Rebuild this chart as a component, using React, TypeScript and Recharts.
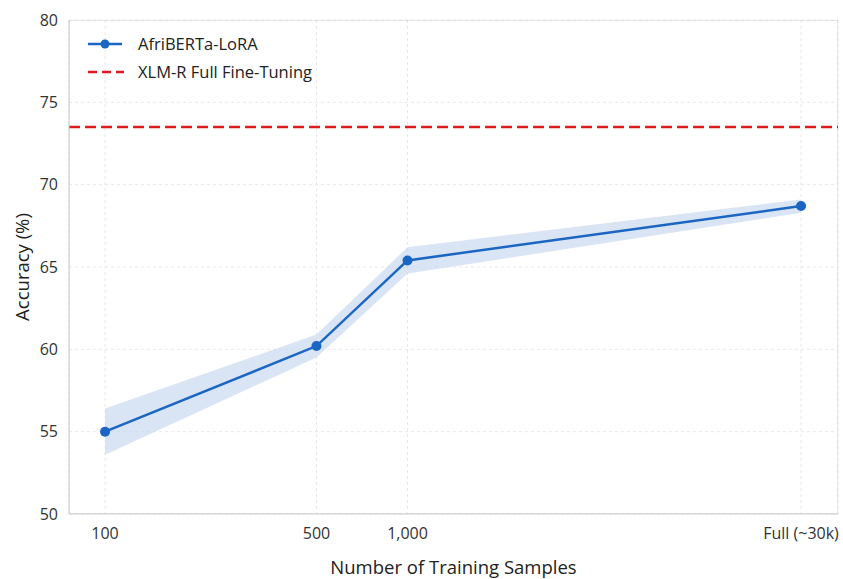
import React from "react";
import {
  ComposedChart,
  Line,
  Area,
  XAxis,
  YAxis,
  CartesianGrid,
  ReferenceLine,
  ReferenceArea,
  Legend,
} from "recharts";

// x positions on a log axis; "Full" sits where the plot puts it
const samples = [100, 500, 1000, 20000];
const sampleLabels = ["100", "500", "1,000", "Full (~30k)"];
const accuracy = [55.0, 60.2, 65.4, 68.7];
const accLow = [53.6, 59.5, 64.6, 68.3];
const accHigh = [56.4, 60.9, 66.2, 69.1];
const xlmrFullFT = 73.5;
const yTicks = [50, 55, 60, 65, 70, 75, 80];

const data = samples.map((n, i) => ({
  n,
  acc: accuracy[i],
  band: [accLow[i], accHigh[i]],
}));

const BLUE = "#1a66c2";
const RED = "#e0191b";
const FONT = "'Open Sans', 'Noto Sans', sans-serif";

function fmtX(v: number) {
  const i = samples.indexOf(v);
  return i >= 0 ? sampleLabels[i] : String(v);
}

function LegendBox() {
  return (
    <div style={{ fontFamily: FONT, fontSize: 16.5, color: "#222", lineHeight: "28px" }}>
      <div style={{ display: "flex", alignItems: "center" }}>
        <svg width={50} height={28}>
          <line x1={0} y1={14} x2={34} y2={14} stroke={BLUE} strokeWidth={2.5} />
          <circle cx={17} cy={14} r={4.5} fill={BLUE} />
        </svg>
        <span>AfriBERTa-LoRA</span>
      </div>
      <div style={{ display: "flex", alignItems: "center" }}>
        <svg width={50} height={28}>
          <line x1={0} y1={14} x2={36} y2={14} stroke={RED} strokeWidth={2.5} strokeDasharray="9 5" />
        </svg>
        <span>XLM-R Full Fine-Tuning</span>
      </div>
    </div>
  );
}

const XTitle = (props: any) => {
  const { viewBox } = props;
  return (
    <text x={viewBox.x + viewBox.width / 2} y={566} textAnchor="middle" dominantBaseline="central" fontSize={18.5} fill="#222">
      Number of Training Samples
    </text>
  );
};

const YTitle = (props: any) => {
  const { viewBox } = props;
  const cy = viewBox.y + viewBox.height / 2;
  return (
    <text x={21} y={cy} transform={`rotate(-90 21 ${cy})`} textAnchor="middle" dominantBaseline="central" fontSize={18.5} fill="#222">
      Accuracy (%)
    </text>
  );
};

export default function App() {
  return (
    <div style={{ position: "absolute", left: 0, top: 0, width: 843, height: 579, background: "#fff" }}>
      <ComposedChart
        width={843}
        height={579}
        data={data}
        margin={{ top: 20, right: 5, bottom: 0, left: 0 }}
        style={{ fontFamily: FONT }}
      >
        <CartesianGrid stroke="#e8e8e8" strokeDasharray="3 3" />
        <XAxis
          dataKey="n"
          type="number"
          scale="log"
          domain={[76, 26500]}
          allowDataOverflow
          ticks={samples}
          tickFormatter={fmtX}
          tick={{ fontSize: 16, fill: "#333" }}
          tickSize={0}
          tickMargin={14}
          axisLine={{ stroke: "#d0d0d0" }}
          height={65}
          label={<XTitle />}
        />
        <YAxis
          type="number"
          domain={[50, 80]}
          ticks={yTicks}
          tick={{ fontSize: 16, fill: "#333" }}
          tickSize={0}
          tickMargin={11}
          axisLine={{ stroke: "#d0d0d0" }}
          width={69}
          label={<YTitle />}
        />
        <ReferenceArea x1={76} x2={26500} y1={50} y2={80} fill="none" stroke="#d0d0d0" ifOverflow="hidden" />
        <Area
          dataKey="band"
          stroke="none"
          fill="#c5d6ee"
          fillOpacity={0.65}
          isAnimationActive={false}
          legendType="none"
          activeDot={false}
        />
        <ReferenceLine y={xlmrFullFT} stroke={RED} strokeWidth={2.5} strokeDasharray="11 5" />
        <Line
          dataKey="acc"
          stroke={BLUE}
          strokeWidth={2.5}
          dot={{ r: 5, fill: BLUE, stroke: BLUE, strokeWidth: 0 }}
          isAnimationActive={false}
        />
        <Legend
          layout="vertical"
          align="center"
          verticalAlign="middle"
          content={() => <LegendBox />}
          wrapperStyle={{ left: 88, top: 30, width: 280 }}
        />
      </ComposedChart>
    </div>
  );
}
